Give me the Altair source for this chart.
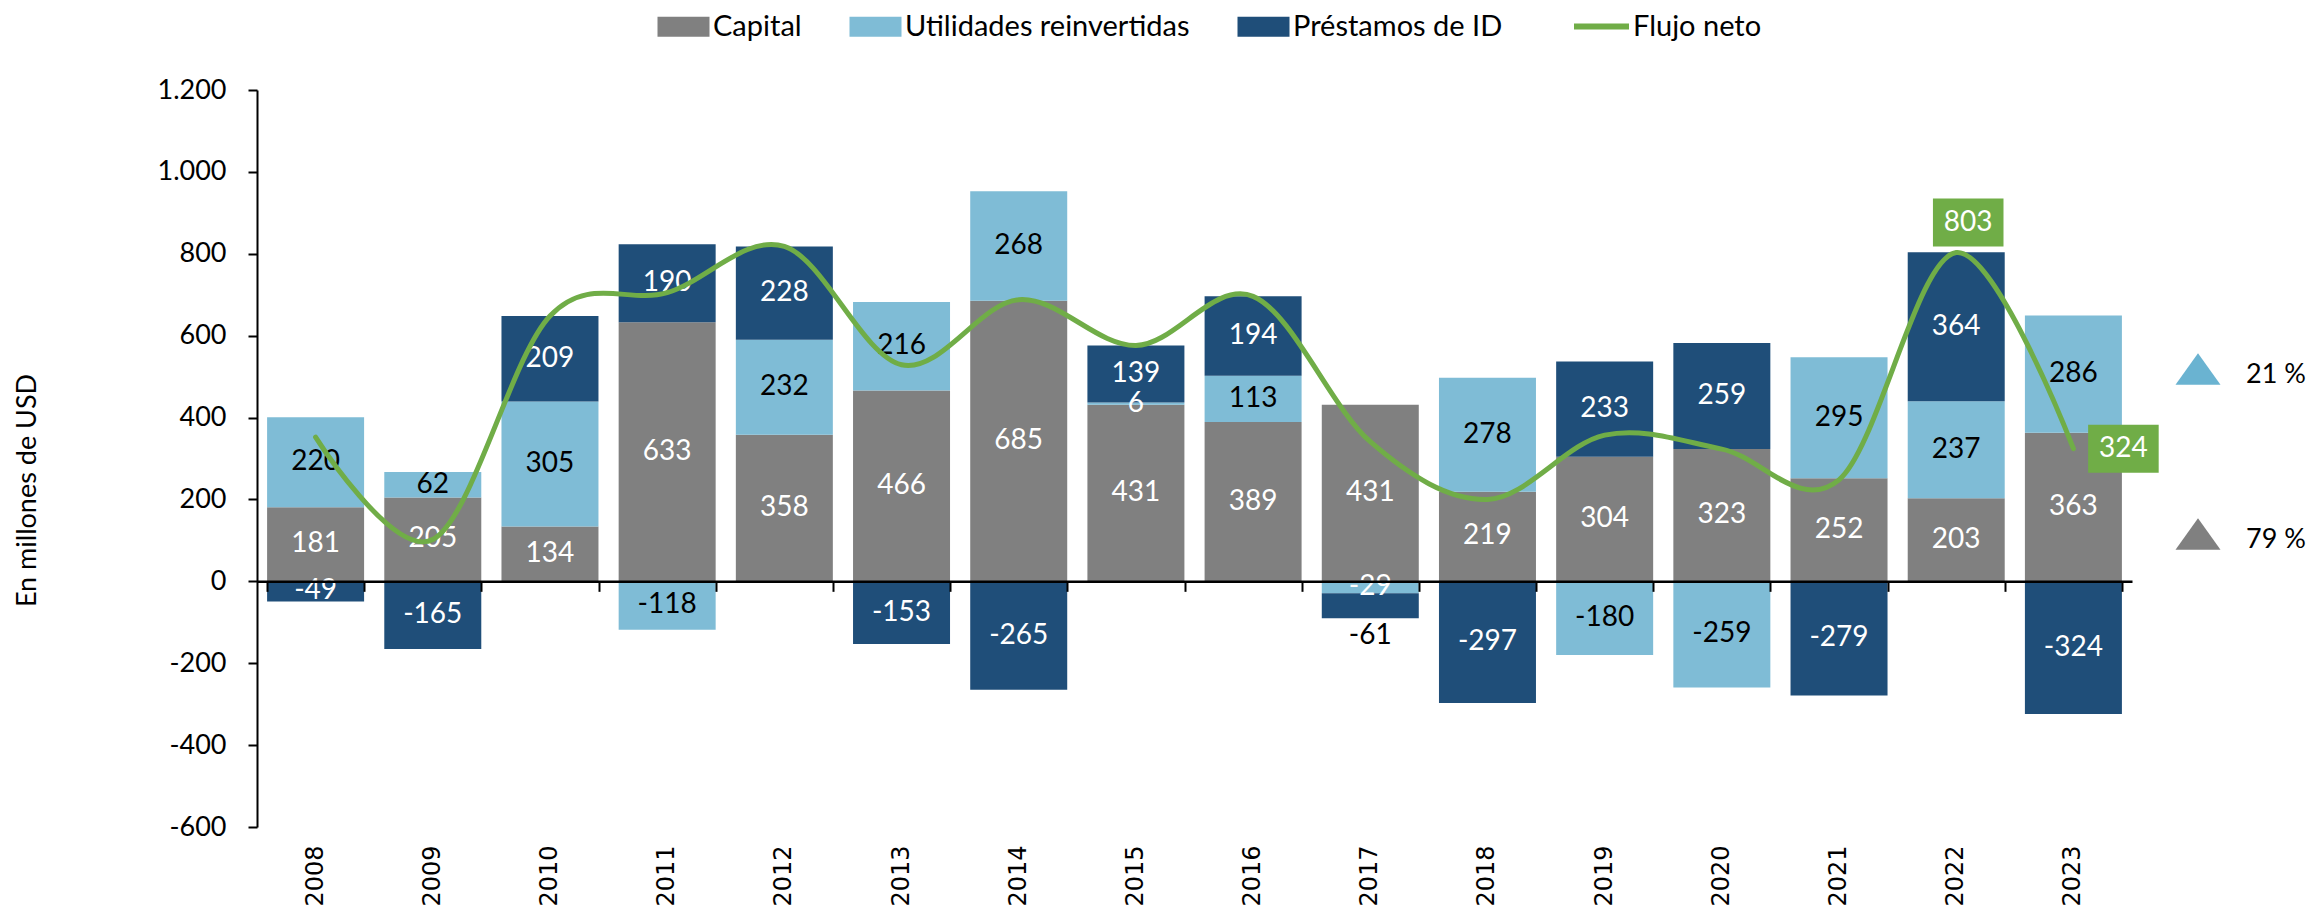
import altair as alt
import pandas as pd

# ---------------- data ----------------
anios = [str(y) for y in range(2008, 2024)]
capital = [181, 205, 134, 633, 358, 466, 685, 431, 389, 431, 219, 304, 323, 252, 203, 363]
utilidades = [220, 62, 305, -118, 232, 216, 268, 6, 113, -29, 278, -180, -259, 295, 237, 286]
prestamos = [-49, -165, 209, 190, 228, -153, -265, 139, 194, -61, -297, 233, 259, -279, 364, -324]
flujo_neto = [352, 102, 648, 705, 818, 529, 688, 576, 696, 341, 200, 357, 323, 248, 803, 324]
series = ["Capital", "Utilidades reinvertidas", "Préstamos de ID"]
serie_linea = "Flujo neto"
etiquetas_fuera = [("2017", "Préstamos de ID")]
anios_destacados = ["2022", "2023"]
participacion = ["21 %", "79 %"]

colores = ["#808080", "#7FBCD6", "#1F4E79"]
color_linea = "#70AD47"
FONT = "Lato"

filas = []
for i, a in enumerate(anios):
    for k, (s, vals) in enumerate(zip(series, [capital, utilidades, prestamos])):
        filas.append({"anio": a, "serie": s, "orden": k, "valor": vals[i],
                      "texto": str(vals[i]), "fuera": (a, s) in etiquetas_fuera})
df_barras = pd.DataFrame(filas)
df_linea = pd.DataFrame({"anio": anios, "serie": serie_linea, "valor": flujo_neto})
df_linea["texto"] = df_linea["valor"].astype(str)

W, H = 1875, 737
YMIN, YMAX = -600, 1200
BELOW_ZERO_PX = H * (0 - YMIN) / (YMAX - YMIN)

xscale = alt.Scale(paddingInner=0.17, paddingOuter=0.085)
yscale = alt.Scale(domain=[YMIN, YMAX], nice=False, zero=False)

label_expr = ("datum.value < 0 ? '-' + replace(format(-datum.value, ','), ',', '.') "
              ": replace(format(datum.value, ','), ',', '.')")

x_labels = alt.X("anio:O", sort=anios, title=None, scale=xscale,
                 axis=alt.Axis(orient="bottom", labelAngle=-90, labelAlign="right",
                               labelBaseline="middle", labelFont="DejaVu Sans",
                               labelFontSize=24, labelColor="black", labelPadding=18,
                               ticks=False, domain=False))
x_zero = alt.X("anio:O", sort=anios, title=None, scale=xscale,
               axis=alt.Axis(orient="bottom", offset=-BELOW_ZERO_PX, labels=False,
                             ticks=True, tickBand="extent", tickSize=10, tickWidth=2,
                             tickColor="black", domainColor="black", domainWidth=2.5,
                             zindex=2))
x_plain = alt.X("anio:O", sort=anios, title=None, scale=xscale, axis=None)

y_axis = alt.Axis(values=list(range(YMIN, YMAX + 1, 200)), labelExpr=label_expr,
                  grid=False, title="En millones de USD", titleFont=FONT,
                  titleFontSize=27, titleFontWeight="normal", titleColor="black",
                  titleAngle=-90, titleX=-230, titleY=400, titleAlign="center",
                  titleBaseline="middle", labelFont=FONT, labelFontSize=27,
                  labelColor="black", labelPadding=22, tickSize=9, tickWidth=2,
                  tickColor="black", domainColor="black", domainWidth=2)


def yq(field):
    return alt.Y(field, scale=yscale, axis=y_axis)


apilado = alt.Chart(df_barras).transform_stack(
    stack="valor", groupby=["anio"], as_=["y0", "y1"],
    sort=[alt.SortField("orden", order="ascending")], offset="zero"
).transform_calculate(medio="(datum.y0 + datum.y1) / 2")

barras = apilado.mark_bar(size=97).encode(
    x=x_labels,
    y=yq("y0:Q"),
    y2="y1:Q",
    fill=alt.Fill("serie:N", scale=alt.Scale(domain=series, range=colores),
                  legend=alt.Legend(title=None, orient="none", legendX=412, legendY=-78,
                                    direction="horizontal",
                                    symbolType="M-2.6,-1H2.6V1H-2.6Z",
                                    symbolSize=400, symbolStrokeWidth=0,
                                    labelOffset=15, columnPadding=47, padding=0,
                                    labelLimit=500,
                                    labelFont=FONT, labelFontSize=29, labelColor="black")),
)

etiquetas = apilado.transform_filter("!datum.fuera").mark_text(
    font=FONT, fontSize=28, align="center", baseline="middle"
).encode(
    x=x_plain,
    y=yq("medio:Q"),
    text="texto:N",
    color=alt.condition("datum.serie == 'Utilidades reinvertidas' && abs(datum.valor) >= 40",
                        alt.value("black"), alt.value("white")),
)

etiquetas_ext = apilado.transform_filter("datum.fuera").mark_text(
    font=FONT, fontSize=28, align="center", baseline="middle", dy=18, color="black"
).encode(
    x=x_plain,
    y=yq("y1:Q"),
    text="texto:N",
)

linea = alt.Chart(df_linea).mark_line(
    interpolate="cardinal", strokeWidth=5, strokeCap="round"
).encode(
    x=x_zero,
    y=yq("valor:Q"),
    stroke=alt.Stroke("serie:N", scale=alt.Scale(domain=[serie_linea], range=[color_linea]),
                      legend=alt.Legend(title=None, orient="none", legendX=1330, legendY=-78,
                                        symbolType="M-2.75,0H2.75", symbolSize=400,
                                        symbolStrokeWidth=6, labelOffset=17, padding=0,
                                        labelLimit=500,
                                        labelFont=FONT, labelFontSize=29,
                                        labelColor="black")),
)

caja = "M-1.47,-1H1.47V1H-1.47Z"
destacados = []
for anio_d, dx, dy in [(anios_destacados[0], 12, -30), (anios_destacados[1], 50, 0)]:
    base_d = alt.Chart(df_linea).transform_filter(f"datum.anio == '{anio_d}'")
    destacados.append(base_d.mark_point(shape=caja, size=2304, filled=True, opacity=1,
                                        color=color_linea, xOffset=dx, yOffset=dy).encode(
        x=x_plain, y=yq("valor:Q")))
    destacados.append(base_d.mark_text(font=FONT, fontSize=28, color="white", align="center",
                                       baseline="middle", dx=dx, dy=dy).encode(
        x=x_plain, y=yq("valor:Q"), text="texto:N"))

triangulo = "M0,-0.7L1,0.7L-1,0.7Z"
anot = []
for txt, col, ypx in [(participacion[0], "#6AB3D1", 279), (participacion[1], "#808080", 444)]:
    d = pd.DataFrame({"t": [txt]})
    anot.append(alt.Chart(d).mark_point(shape=triangulo, size=2025, filled=True, opacity=1,
                                        color=col).encode(
        x=alt.value(1941), y=alt.value(ypx)))
    anot.append(alt.Chart(d).mark_text(font=FONT, fontSize=27, color="black", align="left",
                                       baseline="middle").encode(
        x=alt.value(1989), y=alt.value(ypx + 6), text="t:N"))

chart = alt.layer(barras, etiquetas, etiquetas_ext, linea, *destacados, *anot).resolve_axis(
    x="independent"
).properties(
    width=W, height=H,
    background="white",
    autosize=alt.AutoSizeParams(type="none"),
    padding={"left": 249, "top": 82, "right": 182, "bottom": 80},
).configure_view(stroke=None)

chart.save("out.html", embed_options={"renderer": "svg", "actions": False})
